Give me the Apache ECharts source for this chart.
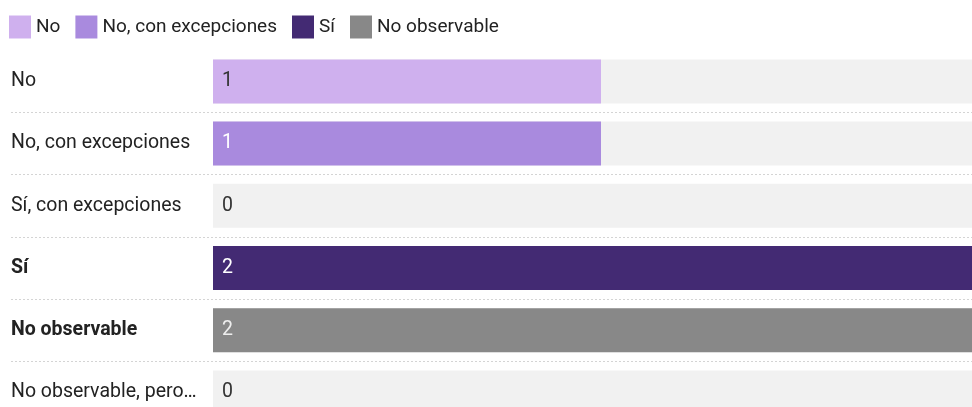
<!DOCTYPE html>
<html>
<head>
<meta charset="utf-8">
<script src="https://cdn.jsdelivr.net/npm/echarts@6/dist/echarts.min.js"></script>
<style>
  html, body { margin: 0; padding: 0; background: #fff; }
  #chart { width: 972px; height: 407px; }
</style>
</head>
<body>
<div id="chart"></div>
<script>
// Respuestas por categoría
const categorias = [
  'No',
  'No, con excepciones',
  'Sí, con excepciones',
  'Sí',
  'No observable',
  'No observable, pero…'
];
const valores = [1, 1, 0, 2, 2, 0];

// Entradas de la leyenda y su color
const leyenda = ['No', 'No, con excepciones', 'Sí', 'No observable'];
const coloresLeyenda = ['#cfb0ee', '#a98ade', '#432a73', '#888888'];

// Categorías resaltadas en negrita
const destacadas = ['Sí', 'No observable'];

// Color del texto del valor según el color de la barra
const textoSobreBarra = {
  '#cfb0ee': '#333333',
  '#a98ade': '#ffffff',
  '#432a73': '#ffffff',
  '#888888': '#eeeeee'
};

const FONT = 'Roboto, "Noto Sans", sans-serif';
const TAM_LEYENDA = 19;
const TAM_EJE = 19.5;
const gridTop = 50.3;
const gridHeight = 373.2;

const datos = valores.map((v, i) => {
  const idx = leyenda.indexOf(categorias[i]);
  const color = idx >= 0 ? coloresLeyenda[idx] : '#f1f1f1';
  return {
    value: v,
    itemStyle: { color: color },
    label: { color: textoSobreBarra[color] || '#333333' }
  };
});

const chart = echarts.init(document.getElementById('chart'), null, { renderer: 'canvas' });

const serieLeyenda = leyenda.map((nombre, i) => ({
  name: nombre,
  type: 'bar',
  stack: 'total',
  xAxisIndex: 0,
  yAxisIndex: 0,
  itemStyle: { color: coloresLeyenda[i] },
  data: []
}));

chart.setOption({
  animation: false,
  backgroundColor: '#ffffff',
  textStyle: { fontFamily: FONT },
  legend: {
    data: leyenda,
    left: 9,
    top: 15.5,
    padding: 0,
    itemWidth: 22,
    itemHeight: 23,
    itemGap: 15,
    icon: 'rect',
    selectedMode: false,
    textStyle: { fontSize: TAM_LEYENDA, color: '#222222', fontFamily: FONT }
  },
  grid: [
    { left: 213, top: gridTop, width: 776, height: gridHeight, outerBoundsMode: 'none', containLabel: false },
    { left: 11, right: 0, top: gridTop, height: gridHeight, outerBoundsMode: 'none', containLabel: false }
  ],
  xAxis: [
    { gridIndex: 0, type: 'value', min: 0, max: Math.max(...valores), show: false },
    { gridIndex: 1, type: 'value', min: 0, max: 1, show: false }
  ],
  yAxis: [
    {
      gridIndex: 0,
      type: 'category',
      data: categorias,
      inverse: true,
      axisLine: { show: false },
      axisTick: { show: false },
      splitLine: { show: false },
      axisLabel: {
        align: 'left',
        margin: 202,
        fontSize: TAM_EJE,
        color: '#222222',
        fontFamily: FONT,
        formatter: (v) => destacadas.includes(v) ? '{b|' + v + '}' : v,
        rich: {
          b: { fontWeight: 'bold', fontSize: TAM_EJE, color: '#222222', fontFamily: FONT }
        }
      }
    },
    {
      // Separadores punteados entre filas, de borde a borde
      gridIndex: 1,
      type: 'category',
      data: categorias,
      inverse: true,
      axisLine: { show: false },
      axisTick: { show: false },
      axisLabel: { show: false },
      splitLine: {
        show: true,
        showMinLine: false,
        lineStyle: { color: '#d4d4d4', width: 1, type: [2, 2] }
      }
    }
  ],
  series: [
    {
      name: 'Respuestas',
      type: 'bar',
      stack: 'total',
      xAxisIndex: 0,
      yAxisIndex: 0,
      barWidth: 44,
      showBackground: true,
      backgroundStyle: { color: '#f1f1f1' },
      label: {
        show: true,
        position: 'insideLeft',
        distance: 9,
        fontSize: TAM_EJE,
        fontFamily: FONT,
        formatter: (p) => String(p.value)
      },
      data: datos
    },
    ...serieLeyenda
  ]
});
</script>
</body>
</html>
